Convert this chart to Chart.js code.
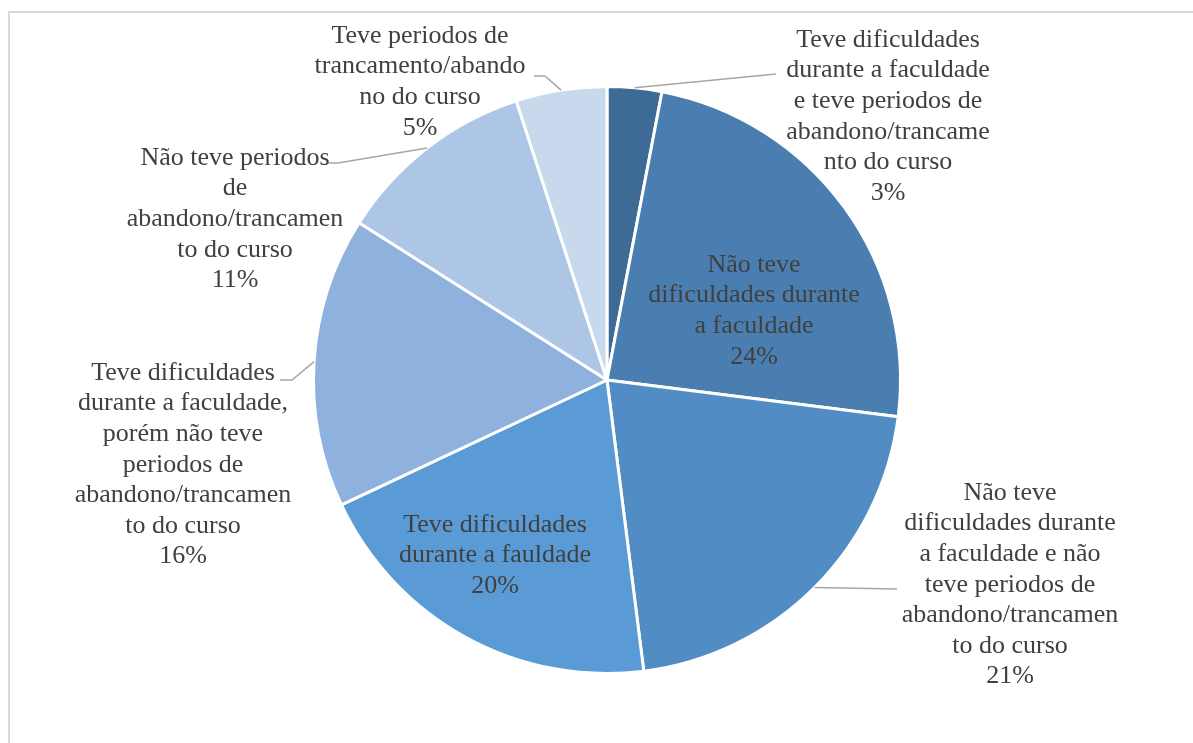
<!DOCTYPE html>
<html>
<head>
<meta charset="utf-8">
<script src="https://cdn.jsdelivr.net/npm/chart.js@4"></script>
<style>
  html, body { margin: 0; padding: 0; background: #fff; overflow: hidden; }
  #frame { position: absolute; left: 8px; top: 11px; width: 1300px; height: 900px;
           border: 2px solid #d9d9d9; box-sizing: border-box; }
  #myChart { position: absolute; left: 0; top: 0; }
</style>
</head>
<body>
<div id="frame"></div>
<canvas id="myChart" width="1193" height="743"></canvas>
<script>
// categories (label lines as they wrap in the picture)
const labels = [
    ["Teve dificuldades", "durante a faculdade", "e teve periodos de", "abandono/trancame", "nto do curso"],
    ["Não teve", "dificuldades durante", "a faculdade"],
    ["Não teve", "dificuldades durante", "a faculdade e não", "teve periodos de", "abandono/trancamen", "to do curso"],
    ["Teve dificuldades", "durante a fauldade"],
    ["Teve dificuldades", "durante a faculdade,", "porém não teve", "periodos de", "abandono/trancamen", "to do curso"],
    ["Não teve periodos", "de", "abandono/trancamen", "to do curso"],
    ["Teve periodos de", "trancamento/abando", "no do curso"]
];
const values = [3, 24, 21, 20, 16, 11, 5];
const sliceColors = ["#3e6a96", "#4a7eb0", "#518dc4", "#5b9bd5", "#8eb2dd", "#adc6e6", "#c8d9ed"];

// where each label block sits (center x, first line y) and its leader line bends
const labelPlaces = [
    { x: 888, y: 40, leader: [[776, 74]] },
    { x: 754, y: 265, leader: null },
    { x: 1010, y: 493, leader: [[897, 589]] },
    { x: 495, y: 525, leader: null },
    { x: 183, y: 373, leader: [[292, 380], [280, 380]] },
    { x: 235, y: 158, leader: [[338, 163], [327, 163]] },
    { x: 420, y: 36, leader: [[545, 76], [534, 76]] }
];

const lineHeight = 30.6;

const labelPlugin = {
    id: "pieLabels",
    afterDatasetsDraw(chart) {
        const ctx = chart.ctx;
        const arcs = chart.getDatasetMeta(0).data;
        ctx.save();
        ctx.font = "26px 'Liberation Serif', 'Times New Roman', serif";
        ctx.textAlign = "center";
        ctx.textBaseline = "middle";
        ctx.fillStyle = "#404040";
        arcs.forEach(function(arc, i) {
            const place = labelPlaces[i];
            const p = arc.getProps(["x", "y", "startAngle", "endAngle", "outerRadius"], true);
            if (place.leader) {
                const mid = (p.startAngle + p.endAngle) / 2;
                ctx.beginPath();
                ctx.strokeStyle = "#a6a6a6";
                ctx.lineWidth = 1.5;
                ctx.moveTo(p.x + Math.cos(mid) * p.outerRadius, p.y + Math.sin(mid) * p.outerRadius);
                place.leader.forEach(function(pt) { ctx.lineTo(pt[0], pt[1]); });
                ctx.stroke();
            }
            const lines = labels[i].concat([values[i] + "%"]);
            lines.forEach(function(txt, j) {
                ctx.fillText(txt, place.x, place.y + j * lineHeight);
            });
        });
        ctx.restore();
    }
};

const ctx = document.getElementById("myChart").getContext("2d");
const chart = new Chart(ctx, {
    type: "pie",
    data: {
        labels: labels.map(l => l.join(" ")),
        datasets: [{
            data: values,
            backgroundColor: sliceColors,
            borderColor: "#ffffff",
            borderWidth: 3
        }]
    },
    options: {
        responsive: false,
        animation: false,
        layout: { padding: { top: 85, bottom: 68, left: 21, right: 0 } },
        plugins: {
            legend: { display: false },
            tooltip: { enabled: false }
        }
    },
    plugins: [labelPlugin]
});
</script>
</body>
</html>
